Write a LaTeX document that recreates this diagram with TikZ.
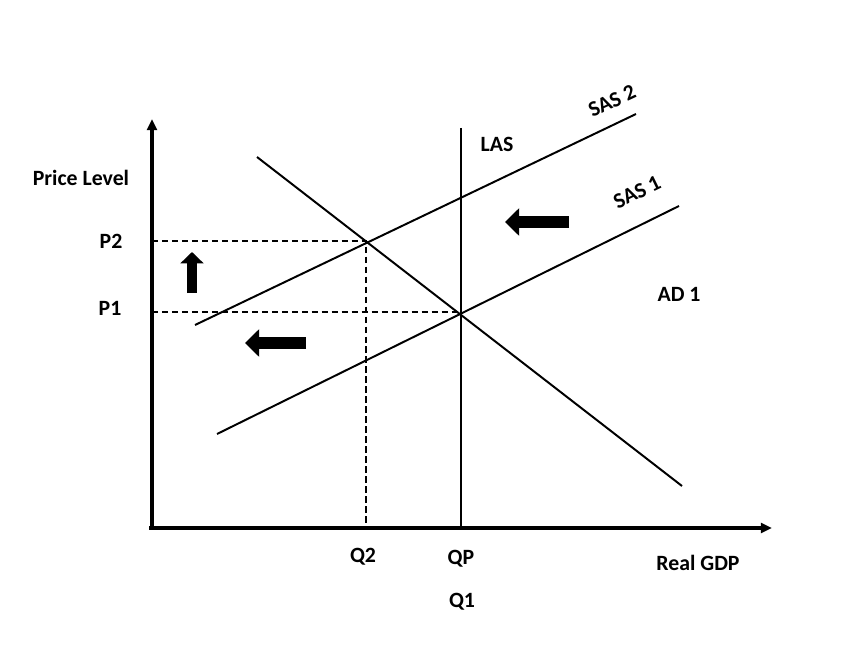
\documentclass[tikz,border=0pt]{standalone}
\usepackage{fontspec}
\setmainfont{Carlito}
\usetikzlibrary{arrows.meta}

\begin{document}
\begin{tikzpicture}[x=0.025cm,y=-0.025cm,
  curve/.style={line width=1.4pt},
  guide/.style={line width=1.4pt, dash pattern=on 4.6pt off 2.5pt},
  lbl/.style={font=\bfseries\fontsize{15.5}{18}\selectfont, inner sep=1pt},
  shift arrow/.style={line width=9pt, -{Triangle[length=10pt,width=19pt]}}]
\useasboundingbox (0,0) rectangle (856,657);

% Axes
\coordinate (origin) at (152,528);
\coordinate (ytop) at (152,119);
\coordinate (xstart) at (149,528);
\coordinate (xend) at (772,528);
\draw[line width=2.2pt, -{Triangle[length=8pt,width=7pt]}] (origin) -- (ytop);
\draw[line width=2.2pt, -{Triangle[length=8pt,width=7pt]}] (xstart) -- (xend);

% Curves
\coordinate (las top) at (461,128);
\coordinate (las bot) at (461,528);
\coordinate (sas2 a) at (195,325);
\coordinate (sas2 b) at (636,114);
\coordinate (sas1 a) at (217,434);
\coordinate (sas1 b) at (679,206);
\coordinate (ad a) at (257,157);
\coordinate (ad b) at (682,486);
\draw[curve] (las top) -- (las bot);
\draw[curve] (sas2 a) -- (sas2 b);
\draw[curve] (sas1 a) -- (sas1 b);
\draw[curve] (ad a) -- (ad b);

% Equilibria and guides
\coordinate (e2) at (366,241);
\coordinate (e1) at (461,312);
\coordinate (p2 axis) at (152,241);
\coordinate (p1 axis) at (152,312);
\coordinate (q2 axis) at (366,528);
\draw[guide] (p2 axis) -- (e2) -- (q2 axis);
\draw[guide] (p1 axis) -- (e1);

% Labels
\node[lbl] (price) at (81,178) {Price Level};
\node[lbl] (p2) at (111,241) {P2};
\node[lbl] (p1) at (110,308) {P1};
\node[lbl] (q2) at (363,557) {Q2};
\node[lbl] (qp) at (461,559) {QP};
\node[lbl] (q1) at (462,602) {Q1};
\node[lbl] (gdp) at (698,563) {Real GDP};
\node[lbl] (las) at (497,144) {LAS};
\node[lbl] (ad) at (679,294) {AD 1};
\node[lbl, rotate=25] (sas2) at (612,101) {SAS 2};
\node[lbl, rotate=26] (sas1) at (637,192) {SAS 1};

% Shift arrows
\coordinate (a1 tail) at (569,222);
\coordinate (a1 tip) at (505,222);
\coordinate (a2 tail) at (192,293);
\coordinate (a2 tip) at (192,252);
\coordinate (a3 tail) at (306,343);
\coordinate (a3 tip) at (245,343);
\draw[shift arrow] (a1 tail) -- (a1 tip);
\draw[line width=7.8pt, -{Triangle[length=8pt,width=16pt]}] (a2 tail) -- (a2 tip);
\draw[shift arrow] (a3 tail) -- (a3 tip);
\end{tikzpicture}
\end{document}
